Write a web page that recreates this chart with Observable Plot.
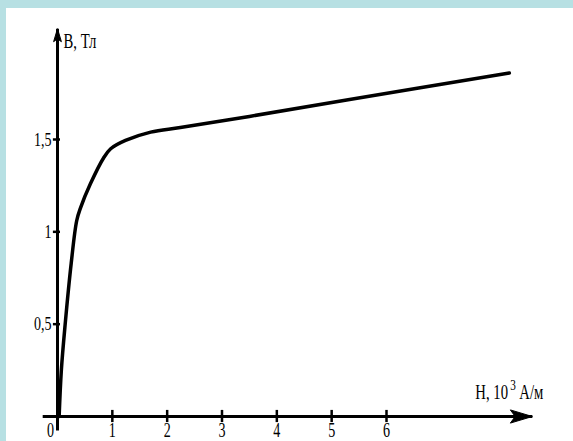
<!DOCTYPE html>
<html><head><meta charset="utf-8">
<script src="https://cdn.jsdelivr.net/npm/d3@7"></script>
<script src="https://cdn.jsdelivr.net/npm/@observablehq/plot@0.6"></script>
<style>
html,body{margin:0;padding:0;background:#fff;}
#frame{width:567px;height:433px;border-top:8px solid #b7e0e3;border-left:6px solid #b7e0e3;background:#fff;}
svg{display:block;}
</style></head><body><div id="frame"></div>
<script>
// Magnetization curve B(H)
const H = [0.03, 0.07, 0.14, 0.25, 0.35, 0.42, 0.6, 0.84, 0.97, 1.24, 1.7, 2.24, 3.5, 5.3, 8.24];
const B = [0, 0.25, 0.5, 0.83, 1.06, 1.13, 1.26, 1.4, 1.45, 1.495, 1.54, 1.565, 1.625, 1.715, 1.86];
const xTicks = [1, 2, 3, 4, 5, 6];
const xTickLabels = ["1", "2", "3", "4", "5", "6"];
const yTicks = [0.5, 1, 1.5];
const yTickLabels = ["0,5", "1", "1,5"];
const originLabel = ["0"];
const yTitle = ["B, Тл"];
const xTitleMain = ["H, 10"];
const xTitleSup = ["3"];
const xTitleUnit = ["А/м"];
const xAxisExtent = [-0.27, 8.66];
const yAxisExtent = [-0.076, 2.10];

const curve = H.map((h, i) => ({H: h, B: B[i]}));
const font = "'Liberation Serif', 'Times New Roman', serif";

// narrow arrowhead with its tip at the origin, pointing up
const arrowHead = {
  draw(ctx, size) {
    const r = Math.sqrt(size / Math.PI);
    const w = r * 0.3;
    ctx.moveTo(0, 0);
    ctx.lineTo(w, r);
    ctx.lineTo(0, r * 0.78);
    ctx.lineTo(-w, r);
    ctx.closePath();
  }
};

const plot = Plot.plot({
  width: 567, height: 433,
  marginLeft: 51, marginRight: 22.5, marginTop: 1.73, marginBottom: 25,
  x: {domain: [0, 9], axis: null},
  y: {domain: [0, 2.2], axis: null},
  style: {fontFamily: font, color: "#000", background: "#fff", overflow: "visible"},
  marks: [
    Plot.link([0], {x1: xAxisExtent[0], x2: xAxisExtent[1], y1: 0, y2: 0, stroke: "#000", strokeWidth: 3}),
    Plot.link([0], {x1: 0, x2: 0, y1: yAxisExtent[0], y2: yAxisExtent[1], stroke: "#000", strokeWidth: 3}),
    Plot.dot([0], {x: xAxisExtent[1], y: 0, symbol: arrowHead, r: 22, rotate: 90, fill: "#000", stroke: "#000", strokeWidth: 1}),
    Plot.dot([0], {x: 0, y: yAxisExtent[1], symbol: arrowHead, r: 13, fill: "#000", stroke: "#000", strokeWidth: 1}),
    Plot.ruleX(xTicks, {x: d => d, y1: -0.033, y2: 0.033, stroke: "#000", strokeWidth: 2.5}),
    Plot.ruleY(yTicks, {y: d => d, x1: -0.075, x2: 0.055, stroke: "#000", strokeWidth: 2.5}),
    Plot.line(curve, {x: "H", y: "B", curve: "catmull-rom", stroke: "#000", strokeWidth: 3.5}),
    Plot.text(xTicks, {x: d => d, y: 0, text: (d, i) => xTickLabels[i], dy: 13, fontSize: 22, fill: "#000"}),
    Plot.text(originLabel, {x: 0, y: 0, text: d => d, dx: -7, dy: 13, fontSize: 22, fill: "#000"}),
    Plot.text(yTicks, {x: 0, y: d => d, text: (d, i) => yTickLabels[i], dx: -6, textAnchor: "end", fontSize: 19, fill: "#000"}),
    Plot.text(yTitle, {x: 0, y: yAxisExtent[1], text: d => d, dx: 6, dy: 13, textAnchor: "start", fontSize: 21, fill: "#000"}),
    Plot.text(xTitleMain, {x: xAxisExtent[1], y: 0, text: d => d, dx: -57, dy: -24, textAnchor: "start", fontSize: 21, fill: "#000"}),
    Plot.text(xTitleSup, {x: xAxisExtent[1], y: 0, text: d => d, dx: -22, dy: -31, textAnchor: "start", fontSize: 15, fill: "#000"}),
    Plot.text(xTitleUnit, {x: xAxisExtent[1], y: 0, text: d => d, dx: -13, dy: -24, textAnchor: "start", fontSize: 21, fill: "#000"})
  ]
});

// Narrow (condensed) serif look of the original lettering
const squeeze = {"22": 0.64, "19": 0.74, "21": 0.7, "15": 0.75};
plot.querySelectorAll("text").forEach(t => {
  const g = t.closest("[font-size]");
  const fs = g ? g.getAttribute("font-size") : null;
  const s = squeeze[fs];
  if (s) {
    const tr = t.getAttribute("transform") || "";
    t.setAttribute("transform", tr + ` scale(${s},1)`);
  }
});
document.getElementById("frame").appendChild(plot);
</script>
</body></html>
